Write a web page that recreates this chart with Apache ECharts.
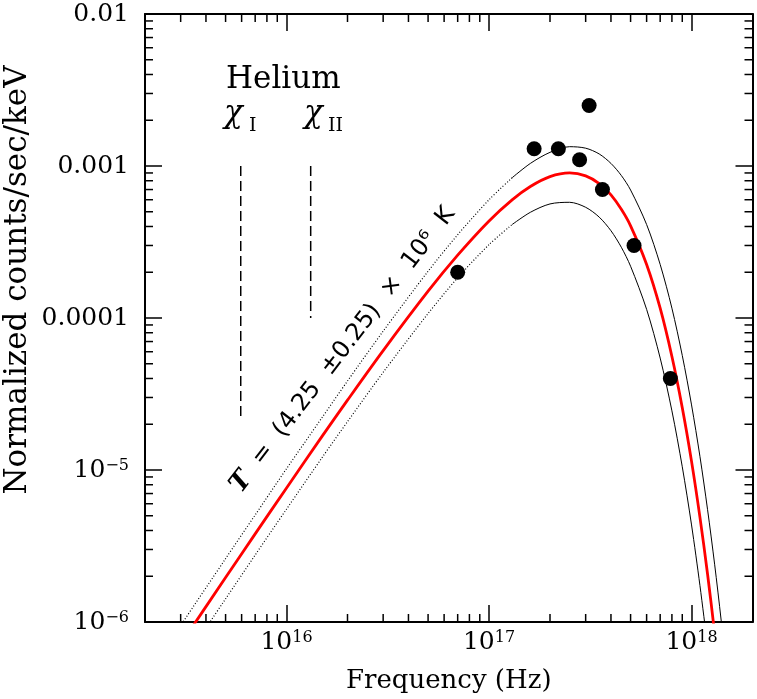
<!DOCTYPE html>
<html>
<head>
<meta charset="utf-8">
<script src="https://cdn.jsdelivr.net/npm/echarts@6/dist/echarts.min.js"></script>
<style>
html, body { margin: 0; padding: 0; background: #fff; }
#chart { width: 757px; height: 699px; }
</style>
</head>
<body>
<div id="chart"></div>
<script>
var serif = 'DejaVu Serif';

// axis ranges
var xMin = 2e15, xMax = 2e18;
var yMin = 1e-6, yMax = 1e-2;

// observed points
var obsFreq = [7.0e16, 1.67e17, 2.2e17, 2.8e17, 3.12e17, 3.63e17, 5.2e17, 7.86e17];
var obsCounts = [2.0e-4, 1.3e-3, 1.3e-3, 1.1e-3, 2.5e-3, 7.0e-4, 3.0e-4, 4.0e-5];

// model curves
var curveFreq = [2e15, 3e15, 5e15, 7e15, 1e16, 1.5e16, 2e16, 3e16, 5e16, 7e16,
    1e17, 1.3e17, 1.6e17, 2e17, 2.5e17, 3e17, 3.5e17, 4e17, 4.5e17, 5e17,
    6e17, 7e17, 8e17, 9e17, 1e18, 1.1e18, 1.2e18, 1.3e18, 1.4e18, 1.5e18];
var bestFit = [3.19e-7, 7.14e-7, 1.96e-6, 3.80e-6, 7.62e-6, 1.67e-5, 2.88e-5, 6.10e-5, 1.50e-4, 2.59e-4,
    4.35e-4, 5.99e-4, 7.33e-4, 8.51e-4, 9.00e-4, 8.61e-4, 7.66e-4, 6.45e-4, 5.19e-4, 4.04e-4,
    2.25e-4, 1.16e-4, 5.58e-5, 2.57e-5, 1.14e-5, 4.90e-6, 2.06e-6, 8.46e-7, 3.42e-7, 1.36e-7];
var upperFit = [4.24e-7, 9.49e-7, 2.61e-6, 5.06e-6, 1.02e-5, 2.22e-5, 3.85e-5, 8.19e-5, 2.03e-4, 3.53e-4,
    6.00e-4, 8.37e-4, 1.04e-3, 1.23e-3, 1.34e-3, 1.31e-3, 1.20e-3, 1.04e-3, 8.66e-4, 6.95e-4,
    4.12e-4, 2.25e-4, 1.16e-4, 5.67e-5, 2.68e-5, 1.23e-5, 5.48e-6, 2.40e-6, 1.03e-6, 4.37e-7];
var lowerFit = [2.32e-7, 5.19e-7, 1.42e-6, 2.76e-6, 5.53e-6, 1.21e-5, 2.08e-5, 4.39e-5, 1.07e-4, 1.84e-4,
    3.04e-4, 4.12e-4, 4.96e-4, 5.63e-4, 5.77e-4, 5.35e-4, 4.61e-4, 3.75e-4, 2.92e-4, 2.19e-4,
    1.14e-4, 5.45e-5, 2.45e-5, 1.05e-5, 4.35e-6, 1.74e-6, 6.82e-7, 2.61e-7, 9.84e-8, 3.65e-8];
var dotEnd = 12; // black curves are dotted up to ~1.3e17

// helium ionisation edges
var edgeFreq = [5.94e15, 1.316e16];
var edgeTop = [1e-3, 1e-3];
var edgeBottom = [2.1e-5, 1e-4];

// minor tick values
var xMinor = [3e15, 4e15, 5e15, 6e15, 7e15, 8e15, 9e15,
    2e16, 3e16, 4e16, 5e16, 6e16, 7e16, 8e16, 9e16,
    2e17, 3e17, 4e17, 5e17, 6e17, 7e17, 8e17, 9e17];
var yMinor = [];
[1e-6, 1e-5, 1e-4, 1e-3].forEach(function (d) {
    for (var k = 2; k <= 9; k++) yMinor.push(k * d);
});

function pairs(xs, ys) {
    return xs.map(function (x, i) { return [x, ys[i]]; });
}

var tickData = [];
xMinor.forEach(function (v) {
    tickData.push([v, yMin, 0]);
    tickData.push([v, yMax, 1]);
});
yMinor.forEach(function (v) {
    tickData.push([xMin, v, 2]);
    tickData.push([xMax, v, 3]);
});

var labelRich = {
    b: { fontFamily: serif, fontSize: 25, color: '#000' },
    s: { fontFamily: serif, fontSize: 16, color: '#000', verticalAlign: 'top' }
};

function baseAxis() {
    return {
        type: 'log',
        splitLine: { show: false },
        axisLine: { lineStyle: { color: '#000', width: 2 } },
        axisTick: { inside: true, length: 17, lineStyle: { color: '#000', width: 1.5 } }
    };
}

var xBottom = baseAxis();
xBottom.min = xMin; xBottom.max = xMax; xBottom.position = 'bottom';
xBottom.axisLabel = {
    showMinLabel: false, showMaxLabel: false, margin: 8,
    fontFamily: serif, fontSize: 25, color: '#000',
    formatter: function (v) {
        var e = Math.round(Math.log10(v));
        return '{b|10}{s|' + e + '}';
    },
    rich: labelRich
};
xBottom.name = 'Frequency (Hz)';
xBottom.nameLocation = 'middle';
xBottom.nameGap = 46;
xBottom.nameTextStyle = { fontFamily: serif, fontSize: 26, color: '#000' };

var xTop = baseAxis();
xTop.min = xMin; xTop.max = xMax; xTop.position = 'top';
xTop.axisLabel = { show: false };

var yLeft = baseAxis();
yLeft.min = yMin; yLeft.max = yMax; yLeft.position = 'left';
yLeft.axisLabel = {
    margin: 16, fontFamily: serif, fontSize: 25, color: '#000',
    formatter: function (v) {
        var e = Math.round(Math.log10(v));
        if (e >= -4) return Math.pow(10, e).toFixed(-e);
        return '{b|10}{s|\u2212' + (-e) + '}';
    },
    rich: labelRich
};

var yRight = baseAxis();
yRight.min = yMin; yRight.max = yMax; yRight.position = 'right';
yRight.axisLabel = { show: false };

var chart = echarts.init(document.getElementById('chart'));

var series = [
    {
        type: 'custom',
        silent: true,
        clip: false,
        data: tickData,
        renderItem: function (params, api) {
            var p = api.coord([api.value(0), api.value(1)]);
            var d = [[0, -8], [0, 8], [8, 0], [-8, 0]][api.value(2)];
            return {
                type: 'line',
                shape: { x1: p[0], y1: p[1], x2: p[0] + d[0], y2: p[1] + d[1] },
                style: { stroke: '#000', lineWidth: 1.5 }
            };
        }
    },
    {
        type: 'line', name: 'upper dotted', symbol: 'none', smooth: 0.3,
        data: pairs(curveFreq, upperFit).slice(0, dotEnd),
        lineStyle: { color: '#000', width: 1.2, type: [1, 2] }
    },
    {
        type: 'line', name: 'upper', symbol: 'none', smooth: 0.3,
        data: pairs(curveFreq, upperFit).slice(dotEnd - 1),
        lineStyle: { color: '#000', width: 1 }
    },
    {
        type: 'line', name: 'lower dotted', symbol: 'none', smooth: 0.3,
        data: pairs(curveFreq, lowerFit).slice(0, dotEnd),
        lineStyle: { color: '#000', width: 1.2, type: [1, 2] }
    },
    {
        type: 'line', name: 'lower', symbol: 'none', smooth: 0.3,
        data: pairs(curveFreq, lowerFit).slice(dotEnd - 1),
        lineStyle: { color: '#000', width: 1 }
    },
    {
        type: 'line', name: 'best fit', symbol: 'none', smooth: 0.3,
        data: pairs(curveFreq, bestFit),
        lineStyle: { color: '#ff0000', width: 2.8 }
    }
];

edgeFreq.forEach(function (f, i) {
    series.push({
        type: 'line', symbol: 'none',
        data: [[f, edgeTop[i]], [f, edgeBottom[i]]],
        lineStyle: { color: '#000', width: 1.5, type: [10, 5] }
    });
});

series.push({
    type: 'scatter', name: 'data',
    data: pairs(obsFreq, obsCounts),
    symbol: 'circle', symbolSize: 15,
    itemStyle: { color: '#000', opacity: 1 },
    z: 5
});

chart.setOption({
    backgroundColor: '#fff',
    animation: false,
    grid: { left: 145, right: 4.5, top: 14, bottom: 77 },
    xAxis: [xBottom, xTop],
    yAxis: [yLeft, yRight],
    series: series,
    graphic: [
        {
            type: 'text', x: 18, y: 280, rotation: Math.PI / 2,
            style: { text: 'Normalized counts/sec/keV', fontFamily: serif, fontSize: 31,
                fill: '#000', align: 'center', verticalAlign: 'middle' }
        },
        {
            type: 'text', x: 226, y: 80,
            style: { text: 'Helium', fontFamily: serif, fontSize: 31, fill: '#000',
                align: 'left', verticalAlign: 'middle' }
        },
        {
            type: 'text', x: 224, y: 114,
            style: { text: '\u03c7', fontFamily: serif, fontStyle: 'italic', fontSize: 31, fill: '#000',
                align: 'left', verticalAlign: 'middle' }
        },
        {
            type: 'text', x: 249, y: 126,
            style: { text: 'I', fontFamily: serif, fontSize: 19, fill: '#000',
                align: 'left', verticalAlign: 'middle' }
        },
        {
            type: 'text', x: 304, y: 114,
            style: { text: '\u03c7', fontFamily: serif, fontStyle: 'italic', fontSize: 31, fill: '#000',
                align: 'left', verticalAlign: 'middle' }
        },
        {
            type: 'text', x: 328, y: 126,
            style: { text: 'II', fontFamily: serif, fontSize: 19, fill: '#000',
                align: 'left', verticalAlign: 'middle' }
        },
        {
            type: 'text', x: 343, y: 350, rotation: 52.5 * Math.PI / 180,
            style: {
                text: '{t|T}  =  (4.25  \u00b10.25)  \u00d7  10\u2076  K',
                fontFamily: 'DejaVu Sans', fontStyle: 'normal', fontSize: 24, fill: '#000',
                align: 'center', verticalAlign: 'middle',
                rich: {
                    t: { fontFamily: serif, fontStyle: 'italic', fontWeight: 'bold', fontSize: 26 }
                }
            }
        }
    ]
});
</script>
</body>
</html>
